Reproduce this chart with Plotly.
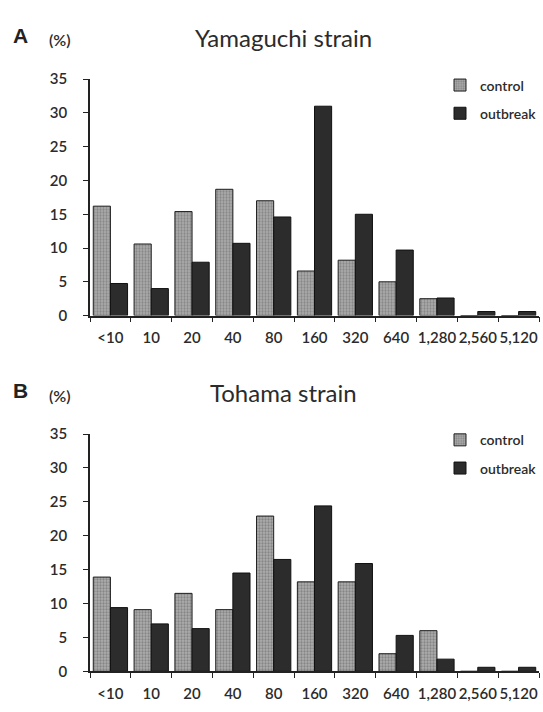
import plotly.graph_objects as go

titers = ["<10", "10", "20", "40", "80", "160", "320", "640", "1,280", "2,560", "5,120"]
yam_control = [16.2, 10.6, 15.4, 18.7, 17.0, 6.6, 8.2, 5.0, 2.5, 0, 0]
yam_outbreak = [4.75, 4.0, 7.9, 10.7, 14.6, 31.0, 15.0, 9.7, 2.6, 0.6, 0.6]
toh_control = [13.9, 9.1, 11.5, 9.1, 22.9, 13.2, 13.2, 2.6, 6.0, 0, 0]
toh_outbreak = [9.4, 7.0, 6.3, 14.5, 16.5, 24.4, 15.9, 5.3, 1.8, 0.6, 0.6]
yticks = [0, 5, 10, 15, 20, 25, 30, 35]

W, H = 543, 712
FONT = "Lato"
TXT = "#2b2b2b"

ctrl_marker = dict(
    color="#a0a0a0",
    line=dict(color="#1e1e1e", width=1),
    pattern=dict(shape=".", fgcolor="#5e5e5e", bgcolor="#adadad", size=3, solidity=0.45),
)
out_marker = dict(color="#2c2c2c", line=dict(color="#111111", width=1))

fig = go.Figure()
fig.add_trace(go.Bar(x=titers, y=yam_control, name="control", marker=ctrl_marker,
                     xaxis="x", yaxis="y", legend="legend", legendgroup="a1"))
fig.add_trace(go.Bar(x=titers, y=yam_outbreak, name="outbreak", marker=out_marker,
                     xaxis="x", yaxis="y", legend="legend", legendgroup="a2"))
fig.add_trace(go.Bar(x=titers, y=toh_control, name="control", marker=ctrl_marker,
                     xaxis="x2", yaxis="y2", legend="legend2", legendgroup="b1"))
fig.add_trace(go.Bar(x=titers, y=toh_outbreak, name="outbreak", marker=out_marker,
                     xaxis="x2", yaxis="y2", legend="legend2", legendgroup="b2"))

xdom = [90 / W, 539 / W]
ydomA = [1 - 313.5 / H, 1 - 71 / H]
ydomB = [1 - 678.5 / H, 1 - 435 / H]

tickfont = dict(family=FONT, size=15, color=TXT, weight=600)

xcommon = dict(
    type="category", domain=xdom, tickson="boundaries", ticks="outside", ticklen=5,
    tickwidth=1.2, tickcolor="#222", showline=True, linecolor="#222", linewidth=1.5,
    showgrid=False, zeroline=False, tickfont=tickfont, tickangle=0,
    ticklabelstandoff=8, fixedrange=True,
)
ycommon = dict(
    range=[0, 35], tickmode="array", tickvals=yticks, ticks="outside", ticklen=5,
    tickwidth=1.2, tickcolor="#222", showline=True, linecolor="#222", linewidth=1.5,
    showgrid=False, zeroline=False, tickfont=tickfont,
    ticklabelstandoff=13, fixedrange=True,
)

legcommon = dict(
    x=440 / W, xanchor="left", yanchor="top", bgcolor="rgba(0,0,0,0)",
    font=dict(family=FONT, size=14, color=TXT, weight=600), tracegroupgap=7, itemwidth=30,
)

fig.update_layout(
    width=W, height=H, margin=dict(l=0, r=0, t=0, b=0),
    paper_bgcolor="white", plot_bgcolor="white",
    barmode="group", bargap=0.16, bargroupgap=0,
    xaxis=dict(xcommon, anchor="y"),
    yaxis=dict(ycommon, domain=ydomA, anchor="x"),
    xaxis2=dict(xcommon, anchor="y2"),
    yaxis2=dict(ycommon, domain=ydomB, anchor="x2"),
    legend=dict(legcommon, y=1 - 61 / H),
    legend2=dict(legcommon, y=1 - 425 / H),
    font=dict(family=FONT, color=TXT),
)

ann = []
for label, ttl, yc, yp in [("A", "Yamaguchi strain", 26, 30.5), ("B", "Tohama strain", 390, 395)]:
    ann.append(dict(text=label, x=20 / W, y=1 - yc / H, xref="paper", yref="paper",
                    showarrow=False, xanchor="center", yanchor="middle",
                    font=dict(family="Liberation Sans", size=21, color="#222", weight="bold")))
    ann.append(dict(text="(%)", x=59.5 / W, y=1 - yp / H, xref="paper", yref="paper",
                    showarrow=False, xanchor="center", yanchor="middle",
                    font=dict(family=FONT, size=16, color=TXT, weight=600)))
    ann.append(dict(text=ttl, x=283 / W, y=1 - (yc + 2) / H, xref="paper", yref="paper",
                    showarrow=False, xanchor="center", yanchor="middle",
                    font=dict(family=FONT, size=24, color=TXT)))
fig.update_layout(annotations=ann)

fig.write_html(
    "out.html",
    config={"displayModeBar": False},
    post_script="document.body.style.margin='0';document.body.style.overflow='hidden';",
)
